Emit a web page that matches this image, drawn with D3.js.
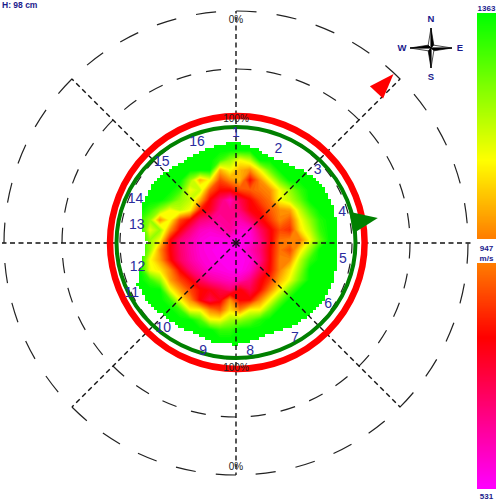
<!DOCTYPE html>
<html><head><meta charset="utf-8">
<script src="https://cdn.jsdelivr.net/npm/d3@7"></script>
<style>html,body{margin:0;padding:0;background:#fff}svg{display:block}text{font-family:"Liberation Sans",Arial,sans-serif}</style>
</head><body><div id="c"></div>
<script>
const heightLabel = "H: 98 cm";
const legendTop = 1363, legendMid = 947, legendBottom = 531, legendUnit = "m/s";
const colorStops = [531, 810, 947, 1091, 1363];
const colorRange = ["#ff00ff", "#ff0000", "#ff7d00", "#ffff00", "#00ff00"];
const sectorLabels = ["1","2","3","4","5","6","7","8","9","10","11","12","13","14","15","16"];
const sectorAngles = [0,24,48,73,98,123,148,172.5,197,221,245,257,281,294,318,339];
const sectorRadii = [111,104,110,111,108,110,111,108,112,111,115,101,101,110,111,109];
const spokeAngles = [0,45,90,135,180,225,270,315];
const gridLevels = [2,3,4];
const edgeAngles = d3.range(0,360,11.25);
const edgeRadii = [101,97,93,95,100,104,104,103,102,103,105,105,104,100,97,99,102,102,100,101,103,106,107,96,89,97,102,102,100,97,98,100];
const G = 1363;
const speedRows = [
[G,G,G,G,G,G,G,G,G,G,G,G,G,G,G,G,G,G,G,G,G],
[G,G,G,G,G,G,G,G,G,G,G,G,G,G,G,G,G,G,G,G,G],
[G,G,G,G,G,G,G,G,1300,1200,1090,1150,G,G,G,G,G,G,G,G,G],
[G,G,G,G,G,G,G,G,1000,1090,1000,960,1090,1250,G,G,G,G,G,G,G],
[G,G,G,G,G,1200,1000,1090,880,960,1000,810,960,1090,1250,G,G,G,G,G,G],
[G,G,G,G,1300,1090,1150,900,810,810,880,900,930,960,1090,1200,1300,G,G,G,G],
[G,G,G,1300,1200,1150,1000,800,690,600,720,800,880,930,1090,1150,1250,G,G,G,G],
[G,1300,1200,1090,1150,1090,830,770,650,650,680,790,820,900,960,980,1150,1280,G,G,G],
[1300,1200,960,1090,880,800,680,650,640,650,610,680,780,860,950,900,1080,1200,1320,G,G],
[G,1100,1200,960,800,680,600,580,600,640,570,570,690,790,880,850,1050,1150,1300,G,G],
[G,1200,1090,810,680,620,570,550,550,560,545,560,650,780,930,950,930,1090,1250,G,G],
[G,1200,960,800,690,620,570,550,540,540,540,600,670,800,930,880,1050,1200,G,G,G],
[G,1090,980,820,700,630,580,560,545,540,535,560,650,800,950,950,1150,1300,G,G,G],
[G,1100,1060,950,800,680,620,570,560,545,540,580,700,810,950,1050,1200,G,G,G,G],
[G,1300,1200,980,880,810,700,640,610,590,600,660,780,860,1000,1100,1250,G,G,G,G],
[G,G,G,1100,980,880,810,780,730,680,800,720,810,950,1090,1250,G,G,G,G,G],
[G,G,G,1300,1090,960,800,720,780,960,800,810,950,1090,1250,G,G,G,G,G,G],
[G,G,G,G,1300,1090,1080,950,900,1050,950,1090,1090,1250,G,G,G,G,G,G,G],
[G,G,G,G,G,G,1280,1100,1090,1180,1200,1250,1320,G,G,G,G,G,G,G,G],
[G,G,G,G,G,G,G,G,1300,1300,G,G,G,G,G,G,G,G,G,G,G],
[G,G,G,G,G,G,G,G,G,G,G,G,G,G,G,G,G,G,G,G,G],
[G,G,G,G,G,G,G,G,G,G,G,G,G,G,G,G,G,G,G,G,G]
];
const redMarker = {angle:43, tip:231, base:206, half:9};
const greenMarker = {angle:80, tip:144, base:117, half:11};
const compassLetters = [["N",0],["E",90],["S",180],["W",270]];

const W=500,H=500,cx=236,cy=243;
const svg=d3.select("#c").append("svg").attr("width",W).attr("height",H).attr("viewBox",[0,0,W,H]);
const color=d3.scaleLinear().domain(colorStops).range(colorRange).clamp(true);
const rGrid=d3.scaleLinear().domain([0,4]).range([0,232]);
const rad=d=>d*Math.PI/180;
const polar=(a,r,ox=cx,oy=cy)=>[ox+r*Math.sin(rad(a)),oy-r*Math.cos(rad(a))];

// grid rings: dash begins at bottom, running clockwise
const gridG=svg.append("g").attr("transform",`translate(${cx},${cy})`);
gridLevels.forEach(l=>{
  const r=rGrid(l),c=2*Math.PI*r,n=36;
  gridG.append("circle").attr("r",r).attr("fill","none").attr("stroke","#222").attr("stroke-width",1.2)
    .attr("transform","rotate(90)")
    .attr("stroke-dasharray",`${c/n/2} ${c/n/2}`);
});

// heat map, clipped to a blocky outline of 3 px cells
const defs=svg.append("defs");
const outline=edgeAngles.map((a,i)=>polar(a,edgeRadii[i]));
const clip=defs.append("clipPath").attr("id","edge");
d3.range(130,346,3).forEach(x=>d3.range(130,352,3).forEach(y=>{
  if(d3.polygonContains(outline,[x+1.5,y+1.5]))
    clip.append("rect").attr("x",x).attr("y",y).attr("width",3).attr("height",3);
}));
const nx=speedRows[0].length,ny=speedRows.length;
const gx=d3.scaleLinear().domain([0.5,nx-0.5]).range([140,340]);
const gy=d3.scaleLinear().domain([0.5,ny-0.5]).range([140,350]);
const flat=speedRows.flat().map(v=>-v);
const levels=d3.range(1360,531,-14);
const contours=d3.contours().size([nx,ny]).smooth(true).thresholds(levels.map(v=>-v))(flat);
const geo=d3.geoPath(d3.geoTransform({point(x,y){this.stream.point(gx(x),gy(y));}}));
const heat=svg.append("g").attr("clip-path","url(#edge)");
heat.append("rect").attr("x",120).attr("y",120).attr("width",240).attr("height",250).attr("fill",color(1363));
heat.selectAll("path").data(contours).join("path").attr("d",geo).attr("fill",d=>color(-d.value)).attr("stroke","none");

// spokes
spokeAngles.forEach(a=>{
  const len=a===90?236:a===270?234:232;
  const [x,y]=polar(a,len);
  svg.append("line").attr("x1",cx).attr("y1",cy).attr("x2",x).attr("y2",y)
    .attr("stroke","#111").attr("stroke-width",1.4).attr("stroke-dasharray","5 3.5");
});

// limit rings
svg.append("ellipse").attr("cx",237.3).attr("cy",242.5).attr("rx",127.3).attr("ry",126.5).attr("fill","none").attr("stroke","#ff0000").attr("stroke-width",6.5);
svg.append("ellipse").attr("cx",236).attr("cy",242.5).attr("rx",119.5).attr("ry",115.5).attr("fill","none").attr("stroke","#008000").attr("stroke-width",4);

// markers
function marker(m,fill){
  const tip=polar(m.angle,m.tip),b=polar(m.angle,m.base);
  const ux=Math.cos(rad(m.angle)),uy=Math.sin(rad(m.angle));
  svg.append("path").attr("fill",fill).attr("d",d3.line()([tip,[b[0]+ux*m.half,b[1]+uy*m.half],[b[0]-ux*m.half,b[1]-uy*m.half]])+"Z");
}
marker(redMarker,"#ff0000");
marker(greenMarker,"#008000");

// sector labels
svg.append("g").selectAll("text").data(sectorLabels).join("text")
  .attr("x",(d,i)=>polar(sectorAngles[i],sectorRadii[i])[0])
  .attr("y",(d,i)=>polar(sectorAngles[i],sectorRadii[i])[1])
  .attr("text-anchor","middle").attr("dominant-baseline","central")
  .attr("font-size",14).attr("fill","#2b2b9e").text(d=>d);

// percent labels
[["0%",19],["100%",118],["100%",367],["0%",466]].forEach(([t,y])=>{
  svg.append("text").attr("x",cx).attr("y",y).attr("text-anchor","middle").attr("dominant-baseline","central")
   .attr("font-size",10).attr("fill","#222").text(t);
});

// height label
svg.append("text").attr("x",2).attr("y",8).attr("font-size",8.5).attr("font-weight","bold").attr("fill","#1a1a8c").text(heightLabel);

// compass
const comp=svg.append("g");
const ox=431,oy=48;
[0,90,180,270].forEach(a=>{
  const t=polar(a,a%180===0?20:21,ox,oy);
  const l=polar(a-45,4,ox,oy),r=polar(a+45,4,ox,oy);
  comp.append("path").attr("d",d3.line()([[ox,oy],t,l])+"Z").attr("fill","#fff").attr("stroke","#000").attr("stroke-width",.7);
  comp.append("path").attr("d",d3.line()([[ox,oy],t,r])+"Z").attr("fill","#000").attr("stroke","#000").attr("stroke-width",.7);
});
compassLetters.forEach(([t,a])=>{
  const p=polar(a,29,ox,oy-.5);
  svg.append("text").attr("x",p[0]).attr("y",p[1]).attr("text-anchor","middle").attr("dominant-baseline","central")
    .attr("font-size",9.5).attr("font-weight","bold").attr("fill","#1a1a8c").text(t);
});

// legend
const yTop=d3.scaleLinear().domain([legendTop,legendMid]).range([13,238]);
const yBot=d3.scaleLinear().domain([legendMid,legendBottom]).range([263,488]);
const legend=svg.append("g");
function bar(y,a,b){
  d3.range(a,b,-2).forEach(v=>{
    legend.append("rect").attr("x",477).attr("width",19).attr("y",y(v)).attr("height",y(v-2)-y(v)+1).attr("fill",color(v));
  });
}
bar(yTop,legendTop,legendMid);
bar(yBot,legendMid,legendBottom);
[[legendTop,8],[legendMid,248],[legendUnit,258],[legendBottom,496]].forEach(([t,y])=>{
  svg.append("text").attr("x",486.5).attr("y",y).attr("text-anchor","middle").attr("dominant-baseline","central")
    .attr("font-size",8).attr("font-weight","bold").attr("fill","#1a1a8c").text(t);
});
</script></body></html>
